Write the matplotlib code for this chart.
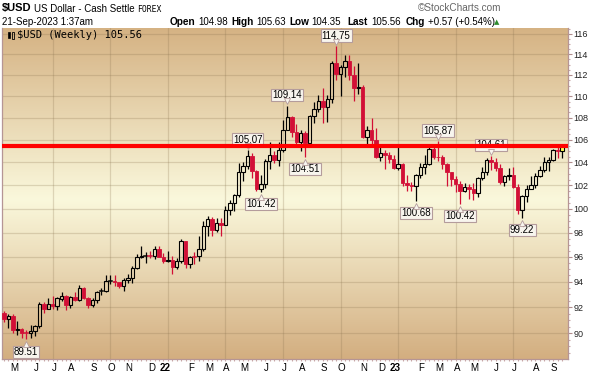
import numpy as np
import pandas as pd
import matplotlib
matplotlib.use('Agg')
import matplotlib.pyplot as plt
import matplotlib.transforms as mtransforms
from matplotlib.colors import LinearSegmentedColormap
from matplotlib.patches import Rectangle
from matplotlib.ticker import FixedLocator, NullFormatter

plt.rcParams['font.family'] = ['Liberation Sans', 'DejaVu Sans']

# weekly bars, week ending Friday
week_end = pd.date_range('2021-04-23', periods=127, freq='W-FRI')

opens = [91.56, 91.06, 91.28, 90.22, 90.31, 90.01, 89.98, 90.13, 90.52, 92.22,
         91.85, 92.23, 92.12, 92.66, 92.90, 92.17, 92.80, 92.53, 93.52, 92.68,
         92.13, 92.58, 93.26, 93.28, 94.04, 94.07, 93.96, 93.64, 94.12, 94.32,
         95.12, 96.03, 96.09, 96.11, 96.11, 96.66, 96.03,
         95.67, 95.73, 95.17, 95.64, 97.27, 95.44, 96.03, 96.05, 96.62, 98.51,
         99.13, 98.20, 98.80, 98.64, 99.85, 100.50, 101.14, 103.14, 103.66, 104.56,
         103.22, 101.67, 102.16, 104.15, 104.67, 104.19, 105.14, 106.91, 108.07, 106.73,
         105.85, 106.62, 105.69, 108.17, 108.80, 109.54, 109.00, 109.76, 113.19, 112.12,
         112.80, 113.31, 111.99, 110.74, 110.87, 106.29, 106.93, 106.04, 104.51, 104.82,
         104.70, 104.31,
         103.52, 103.89, 102.20, 101.99, 101.92, 102.92, 103.63, 103.87, 105.21, 104.52,
         104.45, 103.86, 103.12, 102.51, 102.09, 101.55, 101.82, 101.66, 101.32, 102.68,
         103.19, 104.22, 104.02, 103.55, 102.26, 102.81, 102.91, 101.88, 99.91, 101.07,
         101.70, 102.02, 102.85, 103.37, 104.08, 104.24, 105.07, 104.98]
highs = [91.66, 91.43, 91.44, 90.91, 90.42, 90.20, 90.63, 90.60, 92.41, 92.40,
         92.74, 92.84, 92.83, 93.19, 92.98, 92.88, 93.20, 93.73, 93.56, 92.81,
         92.74, 93.26, 93.52, 94.50, 94.50, 94.56, 94.00, 94.30, 94.62, 95.27,
         96.25, 96.93, 96.39, 96.46, 96.91, 96.87, 96.34,
         96.46, 96.05, 95.89, 97.44, 97.34, 96.10, 96.43, 97.74, 98.93, 99.42,
         99.29, 99.23, 99.19, 100.19, 100.76, 101.26, 103.93, 104.07, 105.07, 104.86,
         103.32, 102.88, 104.30, 105.79, 104.97, 105.79, 107.79, 109.14, 108.17, 107.42,
         106.93, 106.81, 108.27, 109.48, 110.10, 110.79, 110.13, 113.33, 114.75, 112.92,
         113.92, 113.95, 112.88, 113.15, 111.06, 107.24, 107.99, 107.06, 105.64, 105.13,
         104.91, 104.63,
         105.63, 103.95, 102.90, 102.29, 103.01, 103.96, 104.67, 105.36, 105.36, 105.87,
         104.69, 103.97, 103.19, 102.83, 102.41, 102.20, 102.14, 102.19, 102.76, 103.63,
         104.35, 104.61, 104.40, 103.87, 102.93, 103.55, 103.57, 102.08, 101.16, 102.00,
         102.84, 103.04, 103.68, 104.44, 104.45, 105.16, 105.43, 105.63]
lows = [90.86, 90.42, 89.98, 89.86, 89.64, 89.51, 89.66, 89.79, 90.42, 91.51,
        91.84, 91.88, 91.79, 92.46, 91.78, 91.94, 92.45, 92.46, 92.61, 91.94,
        92.03, 92.33, 92.98, 93.20, 93.80, 93.67, 93.50, 93.28, 93.87, 93.87,
        95.06, 95.93, 95.53, 95.89, 95.85, 95.96, 95.53,
        95.60, 94.63, 95.03, 95.50, 95.14, 95.14, 95.41, 95.68, 96.52, 97.71,
        97.71, 98.07, 97.69, 98.60, 99.44, 99.81, 101.01, 102.35, 103.44, 102.65,
        101.50, 101.42, 101.81, 103.41, 103.93, 103.67, 104.95, 106.89, 106.29, 105.54,
        105.04, 104.51, 105.43, 107.58, 108.56, 107.58, 107.67, 109.37, 111.56, 110.05,
        111.85, 111.52, 109.54, 110.24, 106.20, 105.34, 105.63, 104.38, 104.11, 103.44,
        103.91, 103.43,
        103.32, 101.98, 101.53, 101.50, 100.68, 102.63, 103.01, 103.79, 104.33, 104.11,
        103.43, 101.92, 101.92, 101.41, 100.42, 101.43, 100.79, 100.78, 101.01, 102.43,
        102.94, 103.36, 103.24, 102.09, 101.92, 102.47, 101.76, 99.57, 99.22, 100.55,
        101.65, 101.73, 102.73, 103.19, 103.28, 104.13, 104.43, 104.35]
closes = [91.06, 91.28, 90.22, 90.31, 90.01, 89.98, 90.13, 90.55, 92.22, 91.85,
          92.23, 92.12, 92.68, 92.90, 92.17, 92.80, 92.52, 93.52, 92.68, 92.13,
          92.58, 93.20, 93.28, 94.04, 94.07, 93.96, 93.64, 94.12, 94.32, 95.12,
          96.03, 96.09, 96.10, 96.08, 96.66, 96.03, 95.67,
          95.73, 95.17, 95.64, 97.27, 95.44, 96.03, 96.00, 96.62, 98.51, 99.13,
          98.20, 98.80, 98.64, 99.85, 100.50, 101.14, 103.14, 103.66, 104.56, 103.22,
          101.67, 102.16, 104.15, 104.67, 104.19, 105.14, 106.91, 108.07, 106.73, 105.85,
          106.62, 105.69, 108.17, 108.80, 109.54, 109.00, 109.76, 113.19, 112.12, 112.80,
          113.31, 111.99, 110.74, 110.87, 106.29, 106.93, 106.04, 104.51, 104.82, 104.70,
          104.31, 103.52,
          103.89, 102.20, 101.99, 101.92, 102.92, 103.63, 103.87, 105.21, 104.52, 104.45,
          103.86, 103.12, 102.51, 102.09, 101.55, 101.82, 101.66, 101.32, 102.68, 103.19,
          104.22, 104.02, 103.55, 102.26, 102.81, 102.91, 101.88, 99.91, 101.07, 101.70,
          102.02, 102.85, 103.37, 104.08, 104.24, 105.07, 104.99, 105.56]

# labelled highs and lows (bar index)
high_marks = [55, 64, 75, 98, 110]
low_marks = [5, 58, 68, 93, 103, 117]

level_line = 105.45

W, H = 593, 373
fig = plt.figure(figsize=(W / 100, H / 100), dpi=100)
ax = fig.add_axes([2 / W, 1 - 359.3 / H, 566 / W, (359.3 - 28) / H])

# background gradient
cmap = LinearSegmentedColormap.from_list('bg', [(0.0, '#d3ae80'), (0.48, '#faf8dc'), (1.0, '#d5b283')])
grad = np.linspace(0, 1, 256).reshape(-1, 1)
ax.imshow(grad, extent=[0, 1, 0, 1], transform=ax.transAxes, origin='lower',
          aspect='auto', cmap=cmap, zorder=0)

red = '#d20f36'
n = len(closes)
for i in range(n):
    o, h, l, c = opens[i], highs[i], lows[i], closes[i]
    if i == 0 or c < closes[i - 1]:
        col = red
    else:
        col = 'black'
    top = max(o, c)
    bot = min(o, c)
    ax.plot([i, i], [top, h], color=col, lw=0.9, zorder=3, solid_capstyle='butt')
    ax.plot([i, i], [l, bot], color=col, lw=0.9, zorder=3, solid_capstyle='butt')
    if top - bot < 0.06:
        ax.plot([i - 0.4, i + 0.4], [c, c], color=col, lw=1.1, zorder=3)
        continue
    if c < o:
        rect = Rectangle((i - 0.38, bot), 0.76, top - bot, facecolor=col, edgecolor=col, lw=0.6, zorder=3)
    else:
        fc = '#ffff55' if i == n - 1 else 'none'
        rect = Rectangle((i - 0.38, bot), 0.76, top - bot, facecolor=fc, edgecolor=col, lw=0.8, zorder=3)
    ax.add_patch(rect)

ax.axhline(level_line, color='#ff0000', lw=3, zorder=8)

box = dict(boxstyle='square,pad=0.12', fc='#f8f5ee', ec='#b49c9c', lw=0.8)
for i in high_marks:
    ax.annotate('%.2f' % highs[i], xy=(i, highs[i]), xytext=(0, 7.8), textcoords='offset points',
                ha='center', va='center', fontsize=7, bbox=box, zorder=6)
    tr = mtransforms.offset_copy(ax.transData, fig=fig, x=0, y=2.9, units='points')
    ax.plot(i, highs[i], marker='v', ms=5, mfc='#f8f5ee', mec='#b49c9c', mew=0.6, transform=tr, zorder=7)
for i in low_marks:
    ax.annotate('%.2f' % lows[i], xy=(i, lows[i]), xytext=(0, -8.8), textcoords='offset points',
                ha='center', va='center', fontsize=7, bbox=box, zorder=6)
    tr = mtransforms.offset_copy(ax.transData, fig=fig, x=0, y=-3.6, units='points')
    ax.plot(i, lows[i], marker='^', ms=5, mfc='#f8f5ee', mec='#b49c9c', mew=0.6, transform=tr, zorder=7)

# axes
ax.set_yscale('log')
ax.set_ylim(88.02, 116.55)
ax.set_xlim(-0.45, n - 1 + 1.35)
yt = list(range(90, 117, 2))
ax.yaxis.set_major_locator(FixedLocator(yt))
ax.yaxis.set_minor_locator(FixedLocator(np.arange(88.5, 116.6, 0.5)))
ax.yaxis.set_minor_formatter(NullFormatter())
ax.set_yticklabels([str(v) for v in yt])
ax.yaxis.tick_right()
ax.tick_params(axis='y', which='major', length=3, width=0.8, color='#b08c8c', labelsize=6.5, pad=1, labelcolor='#222222')
ax.tick_params(axis='y', which='minor', length=1.5, width=0.8, color='#c9a9a9')

# month labels at first week starting in a month
mondays = week_end - pd.Timedelta(days=4)
letters = 'JFMAMJJASOND'
pos, labs, grid_x = [], [], []
for i in range(1, n):
    if mondays[i].month != mondays[i - 1].month:
        m = mondays[i].month
        if m == 1:
            pos.append(i - 0.7)
            labs.append(mondays[i].strftime('%y'))
        else:
            pos.append(i + 0.25)
            labs.append(letters[m - 1])
        if m in (1, 4, 7, 10):
            grid_x.append(i)
ax.set_xticks(pos)
ax.set_xticklabels(labs)
for t in ax.get_xticklabels():
    if t.get_text().isdigit():
        t.set_fontweight('bold')
        t.set_fontsize(8)
ax.xaxis.set_minor_locator(FixedLocator(np.arange(n)))
ax.tick_params(axis='x', which='major', length=0, labelsize=7, pad=3)
ax.tick_params(axis='x', which='minor', length=1.5, width=0.8, color='#c9a9a9')

for gx in grid_x:
    ax.axvline(gx, color='#8a7350', alpha=0.25, lw=0.9, zorder=1)
for gy in yt:
    ax.axhline(gy, color='#8a7350', alpha=0.25, lw=0.9, zorder=1)

for s in ['left', 'right', 'bottom']:
    ax.spines[s].set_color('#b59595')
    ax.spines[s].set_linewidth(0.9)
ax.spines['top'].set_visible(False)

# header
def px(x, y):
    return x / W, 1 - y / H

fig.text(*px(2, 8.5), '$USD', fontsize=8, fontweight='bold', va='center')
fig.text(*px(34, 8.5), 'US Dollar - Cash Settle', fontsize=7, va='center')
fig.text(*px(137, 9), 'FOREX', fontsize=5.8, va='center', family='DejaVu Sans Mono')
fig.text(*px(501, 8), '\u00a9StockCharts.com', fontsize=7.2, va='center', ha='right', color='#666666')
fig.text(*px(2, 22), '21-Sep-2023 1:37am', fontsize=7, va='center')
hdr = [(170, 'Open', True), (198, '104.98', False), (231, 'High', True), (256, '105.63', False),
       (289, 'Low', True), (311, '104.35', False), (347, 'Last', True), (371, '105.56', False),
       (406, 'Chg', True), (428, '+0.57 (+0.54%)', False)]
for x, s, b in hdr:
    fig.text(*px(x, 22), s, fontsize=7.2 if b else 7, fontweight='bold' if b else 'normal', va='center')
fig.text(*px(497, 22), '\u25b2', fontsize=5, va='center', ha='center', color='#2e8b2e', family='DejaVu Sans')

# chart legend label with tiny candle icon
ax.add_patch(Rectangle((6 / 566, 1 - 10 / 331), 2 / 566, 6 / 331, transform=ax.transAxes,
                       fc='black', ec='black', lw=0.5, zorder=9))
ax.add_patch(Rectangle((10 / 566, 1 - 11 / 331), 2 / 566, 7 / 331, transform=ax.transAxes,
                       fc='none', ec='black', lw=0.6, zorder=9))
fig.text(*px(17, 35), '$USD (Weekly) 105.56', fontsize=7.5, va='center', family='DejaVu Sans Mono')

fig.savefig('out.png', dpi=100)
